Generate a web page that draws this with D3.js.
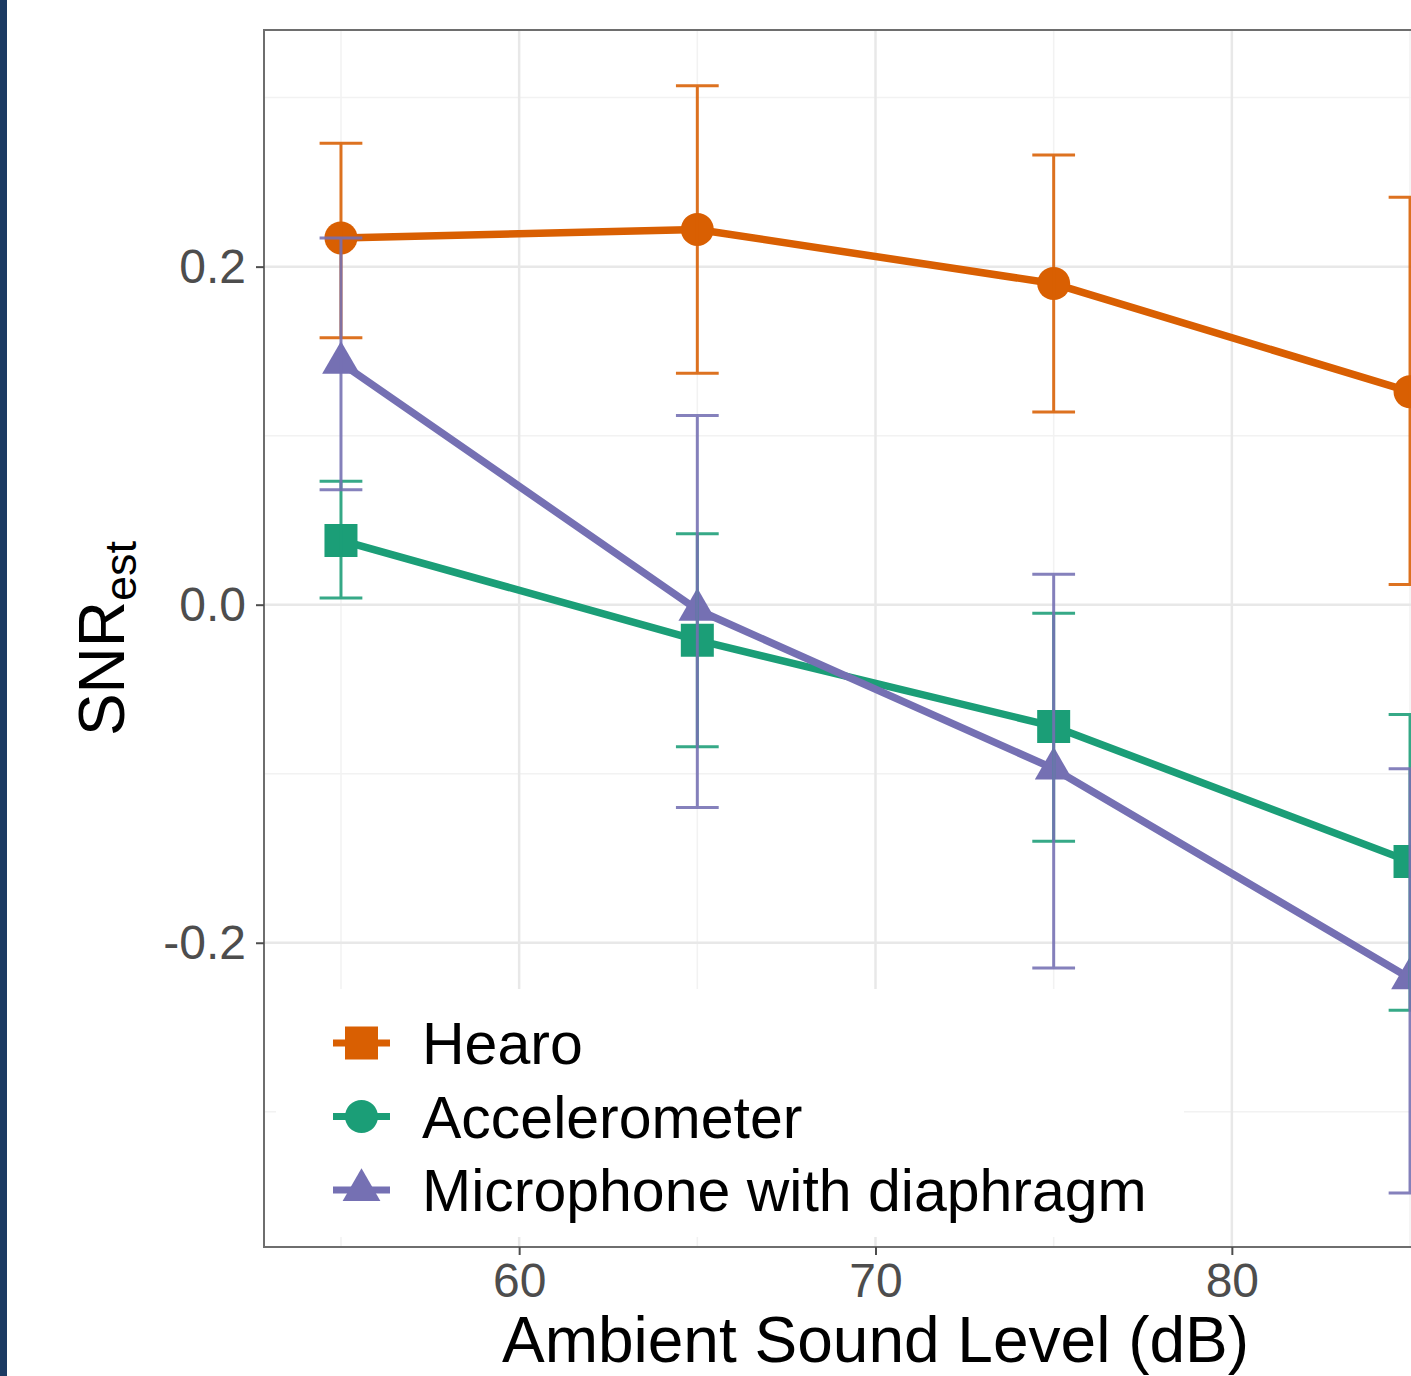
<!DOCTYPE html>
<html>
<head>
<meta charset="utf-8">
<script src="https://cdn.jsdelivr.net/npm/d3@7"></script>
<style>
  html, body { margin: 0; padding: 0; background: #ffffff; overflow: hidden; }
  svg { display: block; }
</style>
</head>
<body>
<svg id="chart" width="1411" height="1376"></svg>
<script>
// ---------------- data ----------------
const levels = [55, 65, 75, 85];
const seriesNames = ["Hearo", "Accelerometer", "Microphone with diaphragm"];
const seriesColors = ["#d95f02", "#1b9e77", "#7570b3"];

const hearoMean = [0.217, 0.222, 0.190, 0.126];
const hearoLow  = [0.158, 0.137, 0.114, 0.012];
const hearoHigh = [0.273, 0.307, 0.266, 0.241];

const accelMean = [0.038, -0.021, -0.072, -0.152];
const accelLow  = [0.004, -0.084, -0.140, -0.240];
const accelHigh = [0.073, 0.042, -0.005, -0.065];

const micMean = [0.143, -0.003, -0.097, -0.221];
const micLow  = [0.068, -0.120, -0.215, -0.348];
const micHigh = [0.217, 0.112, 0.018, -0.097];

const xTicks = [60, 70, 80];
const xMinor = [55, 65, 75, 85];
const yTicks = [-0.2, 0.0, 0.2];
const yMinor = [-0.3, -0.1, 0.1, 0.3];
const xTitle = "Ambient Sound Level (dB)";
const yTitleMain = "SNR";
const yTitleSub = "est";

// plotted shapes (data) and legend shapes (as in the original figure)
const plotShapes = ["circle", "square", "triangle"];
const legendShapes = ["square", "circle", "triangle"];

// ---------------- layout ----------------
const svg = d3.select("#chart");
const panel = { left: 264, right: 1487, top: 30, bottom: 1247 };

const x = d3.scaleLinear().domain([52.84, 87.16]).range([panel.left, panel.right]);
const y = d3.scaleLinear().domain([-0.38, 0.34]).range([panel.bottom, panel.top]);

const series = [
  { name: seriesNames[0], color: seriesColors[0], shape: plotShapes[0], mean: hearoMean, low: hearoLow, high: hearoHigh },
  { name: seriesNames[1], color: seriesColors[1], shape: plotShapes[1], mean: accelMean, low: accelLow, high: accelHigh },
  { name: seriesNames[2], color: seriesColors[2], shape: plotShapes[2], mean: micMean, low: micLow, high: micHigh }
];

// left dark border strip
svg.append("rect").attr("x", 0).attr("y", 0).attr("width", 7).attr("height", 1376).attr("fill", "#1b3a62");

// panel background
svg.append("rect")
  .attr("x", panel.left).attr("y", panel.top)
  .attr("width", panel.right - panel.left).attr("height", panel.bottom - panel.top)
  .attr("fill", "#ffffff");

// grid
const grid = svg.append("g");
grid.selectAll(".ymin").data(yMinor).enter().append("line")
  .attr("x1", panel.left).attr("x2", panel.right)
  .attr("y1", d => y(d)).attr("y2", d => y(d))
  .attr("stroke", "#f2f2f2").attr("stroke-width", 1.5);
grid.selectAll(".xmin").data(xMinor).enter().append("line")
  .attr("y1", panel.top).attr("y2", panel.bottom)
  .attr("x1", d => x(d)).attr("x2", d => x(d))
  .attr("stroke", "#f2f2f2").attr("stroke-width", 1.5);
grid.selectAll(".ymaj").data(yTicks).enter().append("line")
  .attr("x1", panel.left).attr("x2", panel.right)
  .attr("y1", d => y(d)).attr("y2", d => y(d))
  .attr("stroke", "#e8e8e8").attr("stroke-width", 2.5);
grid.selectAll(".xmaj").data(xTicks).enter().append("line")
  .attr("y1", panel.top).attr("y2", panel.bottom)
  .attr("x1", d => x(d)).attr("x2", d => x(d))
  .attr("stroke", "#e8e8e8").attr("stroke-width", 2.5);

// shape helper
function shapePath(shape, cx, cy, s) {
  if (shape === "circle") {
    const p = d3.path();
    p.moveTo(cx + s / 2, cy);
    p.arc(cx, cy, s / 2, 0, 2 * Math.PI);
    p.closePath();
    return p.toString();
  }
  if (shape === "square") {
    const h = s / 2;
    return `M${cx - h},${cy - h}H${cx + h}V${cy + h}H${cx - h}Z`;
  }
  // triangle, centroid at (cx, cy)
  const r = s * 0.66;
  const w = Math.sqrt(3) * r / 2;
  return `M${cx},${cy - r}L${cx + w},${cy + r / 2}L${cx - w},${cy + r / 2}Z`;
}

// lines
const lineGen = d3.line().x(d => x(d[0])).y(d => y(d[1]));
const linesG = svg.append("g");
series.forEach(s => {
  linesG.append("path")
    .datum(levels.map((l, i) => [l, s.mean[i]]))
    .attr("d", lineGen)
    .attr("fill", "none")
    .attr("stroke", s.color)
    .attr("stroke-width", 7.5)
    .attr("stroke-linejoin", "round");
});

// points
const ptsG = svg.append("g");
series.forEach(s => {
  ptsG.selectAll(null).data(levels.map((l, i) => [l, s.mean[i]])).enter().append("path")
    .attr("d", d => shapePath(s.shape, x(d[0]), y(d[1]), 33))
    .attr("fill", s.color);
});

// error bars
const capHalf = (x(55.6) - x(55));
const ebG = svg.append("g");
series.forEach(s => {
  const data = levels.map((l, i) => ({ l, lo: s.low[i], hi: s.high[i] }));
  const g = ebG.append("g").attr("stroke", s.color).attr("stroke-width", 3).attr("opacity", 0.88);
  g.selectAll(".v").data(data).enter().append("line")
    .attr("x1", d => x(d.l)).attr("x2", d => x(d.l))
    .attr("y1", d => y(d.lo)).attr("y2", d => y(d.hi));
  g.selectAll(".t").data(data).enter().append("line")
    .attr("x1", d => x(d.l) - capHalf).attr("x2", d => x(d.l) + capHalf)
    .attr("y1", d => y(d.hi)).attr("y2", d => y(d.hi));
  g.selectAll(".b").data(data).enter().append("line")
    .attr("x1", d => x(d.l) - capHalf).attr("x2", d => x(d.l) + capHalf)
    .attr("y1", d => y(d.lo)).attr("y2", d => y(d.lo));
});

// panel border
svg.append("rect")
  .attr("x", panel.left).attr("y", panel.top)
  .attr("width", panel.right - panel.left).attr("height", panel.bottom - panel.top)
  .attr("fill", "none").attr("stroke", "#6e6e6e").attr("stroke-width", 2);

// legend (inside panel)
const legendBox = { x: 276, y: 989, w: 908, h: 248 };
const legG = svg.append("g");
legG.append("rect")
  .attr("x", legendBox.x).attr("y", legendBox.y)
  .attr("width", legendBox.w).attr("height", legendBox.h)
  .attr("fill", "#ffffff");
const legRows = [1043, 1116.5, 1190];
series.forEach((s, i) => {
  const cy = legRows[i];
  legG.append("line")
    .attr("x1", 333).attr("x2", 390).attr("y1", cy).attr("y2", cy)
    .attr("stroke", s.color).attr("stroke-width", 7);
  legG.append("path")
    .attr("d", shapePath(legendShapes[i], 361.5, cy, 33))
    .attr("fill", s.color);
  legG.append("text")
    .attr("x", 422).attr("y", cy)
    .attr("dy", "0.36em")
    .attr("font-family", "Liberation Sans, Arial, sans-serif")
    .attr("font-size", 59)
    .attr("fill", "#000000")
    .text(s.name);
});

// axes
const font = "Liberation Sans, Arial, sans-serif";
const yAxis = svg.append("g").attr("transform", `translate(${panel.left},0)`)
  .call(d3.axisLeft(y).tickValues(yTicks).tickSize(8).tickPadding(10).tickFormat(d3.format(".1f")));
yAxis.select(".domain").remove();
yAxis.selectAll(".tick line").attr("stroke", "#4d4d4d").attr("stroke-width", 2);
yAxis.selectAll(".tick text").attr("font-family", font).attr("font-size", 48).attr("fill", "#4d4d4d")
  .text(d => d3.format(".1f")(d).replace("−", "-"));

const xAxis = svg.append("g").attr("transform", `translate(0,${panel.bottom})`)
  .call(d3.axisBottom(x).tickValues(xTicks).tickSize(8).tickPadding(8));
xAxis.select(".domain").remove();
xAxis.selectAll(".tick line").attr("stroke", "#4d4d4d").attr("stroke-width", 2);
xAxis.selectAll(".tick text").attr("font-family", font).attr("font-size", 48).attr("fill", "#4d4d4d");

// axis titles
svg.append("text")
  .attr("x", (panel.left + panel.right) / 2).attr("y", 1362)
  .attr("text-anchor", "middle")
  .attr("font-family", font).attr("font-size", 64).attr("fill", "#000000")
  .text(xTitle);

const yt = svg.append("text")
  .attr("transform", `translate(124,${(panel.top + panel.bottom) / 2}) rotate(-90)`)
  .attr("text-anchor", "middle")
  .attr("font-family", font).attr("font-size", 64).attr("fill", "#000000");
yt.append("tspan").text(yTitleMain);
yt.append("tspan").attr("font-size", 45).attr("dy", 12).text(yTitleSub);
</script>
</body>
</html>
